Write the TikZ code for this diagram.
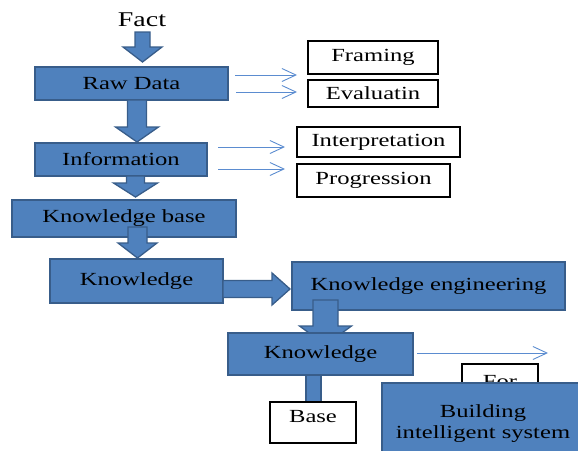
\documentclass[tikz,border=0pt]{standalone}
\usepackage{fontspec}
\setmainfont[FakeStretch=1.33]{Liberation Serif}
\usetikzlibrary{calc, arrows.meta}

\definecolor{boxblue}{HTML}{4F81BD}
\definecolor{edgeblue}{HTML}{385D8A}
\definecolor{thinblue}{HTML}{5B8CD0}

% block arrows: #1 start, #2 tip, #3 half shaft, #4 half head, #5 head length
\newcommand{\fatdown}[5]{%
  \filldraw[fatarrow] let \p1=(#1), \p2=(#2) in
    (\x1-#3,\y1) -- (\x1-#3,\y2+#5) -- (\x1-#4,\y2+#5) -- (\x2,\y2)
    -- (\x1+#4,\y2+#5) -- (\x1+#3,\y2+#5) -- (\x1+#3,\y1) -- cycle;}
\newcommand{\fatright}[5]{%
  \filldraw[fatarrow] let \p1=(#1), \p2=(#2) in
    (\x1,\y1+#3) -- (\x2-#5,\y1+#3) -- (\x2-#5,\y1+#4) -- (\x2,\y2)
    -- (\x2-#5,\y1-#4) -- (\x2-#5,\y1-#3) -- (\x1,\y1-#3) -- cycle;}

\tikzset{
  bluebox/.style={draw=edgeblue, fill=boxblue, line width=1.5pt, inner sep=0pt, font=\fontsize{18.5}{21}\selectfont},
  whitebox/.style={draw=black, fill=white, line width=1.1pt, inner sep=0pt, font=\fontsize{18.5}{21}\selectfont},
  fatarrow/.style={draw=edgeblue, fill=boxblue, line width=1.3pt, line join=miter},
  thinarrow/.style={draw=thinblue, line width=0.9pt, -{Straight Barb[length=14pt, width=13pt, line width=0.9pt]}}
}

\begin{document}
\begin{tikzpicture}[x=1pt, y=-1pt]
    % picture frame, in pixels of the reference (y downwards)
    \useasboundingbox (0,0) rectangle (578,450);

    % Side boxes
    \node[whitebox, minimum width=130pt, minimum height=33pt] (framing) at (373,57.5) {Framing};
    \node[whitebox, minimum width=130pt, minimum height=27pt] (evaluatin) at (373,93.5) {Evaluatin};
    \node[whitebox, minimum width=163pt, minimum height=30pt] (interp) at (378.5,142) {Interpretation};
    \node[whitebox, minimum width=153pt, minimum height=33pt] (progress) at (373.5,180.5) {Progression};

    % Thin arrows towards the side boxes
    \coordinate (raws1) at (235,75);  \coordinate (rawe1) at (297,75);
    \coordinate (raws2) at (236,92);  \coordinate (rawe2) at (297,92);
    \coordinate (infos1) at (218,147); \coordinate (infoe1) at (285,147);
    \coordinate (infos2) at (218,169); \coordinate (infoe2) at (285,169);
    \draw[thinarrow] (raws1) -- (rawe1);
    \draw[thinarrow] (raws2) -- (rawe2);
    \draw[thinarrow] (infos1) -- (infoe1);
    \draw[thinarrow] (infos2) -- (infoe2);

    % Main chain
    \node[font=\fontsize{21}{24}\selectfont] (fact) at (142,20) {Fact};
    \node[bluebox, minimum width=193pt, minimum height=33pt] (raw) at (131.5,83.5) {Raw Data};
    \node[bluebox, minimum width=172pt, minimum height=33pt] (info) at (121,159.5) {Information};
    \node[bluebox, minimum width=224pt, minimum height=37pt] (kbase) at (124,218.5) {Knowledge base};
    \node[bluebox, minimum width=173pt, minimum height=44pt] (know) at (136.5,281) {Knowledge};
    \node[bluebox, minimum width=273pt, minimum height=48pt] (keng) at (428.5,286) {Knowledge engineering};

    % Block arrows between the boxes
    \coordinate (fa1) at (142.5,32);  \coordinate (fb1) at (142.5,62);
    \coordinate (fa2) at (137,100);   \coordinate (fb2) at (137,142);
    \coordinate (fa3) at (135.5,176); \coordinate (fb3) at (135.5,197);
    \coordinate (fa4) at (137.5,227); \coordinate (fb4) at (137.5,258);
    \coordinate (fa5) at (223,289);   \coordinate (fb5) at (290,289);
    \coordinate (fa6) at (325.5,300); \coordinate (fb6) at (325.5,345);
    \fatdown{fa1}{fb1}{7.5pt}{19.5pt}{15pt}
    \fatdown{fa2}{fb2}{9.5pt}{21.5pt}{15pt}
    \fatdown{fa3}{fb3}{9pt}{22pt}{14pt}
    \fatdown{fa4}{fb4}{9.5pt}{19.5pt}{15pt}
    \fatright{fa5}{fb5}{8.5pt}{16pt}{18pt}
    \fatdown{fa6}{fb6}{12.5pt}{26pt}{19pt}

    % Second knowledge box and its outputs
    \node[bluebox, minimum width=185pt, minimum height=42pt, text depth=3pt] (know2) at (320.5,354) {Knowledge};
    \coordinate (ks) at (417,353); \coordinate (ke) at (548,353);
    \draw[thinarrow] (ks) -- (ke);

    \coordinate (st) at (313.5,375); \coordinate (sb) at (313.5,402);
    \filldraw[fatarrow] ($(st)+(-7.5,0)$) rectangle ($(sb)+(7.5,0)$);
    \node[whitebox, minimum width=86pt, minimum height=41pt, text depth=12pt] (base) at (313,422.5) {Base};

    \node[whitebox, minimum width=76pt, minimum height=36pt] (for) at (500,382) {For};
    \node[bluebox, minimum width=202pt, minimum height=82pt, align=center] (build) at (483,424)
        {Building\\intelligent system};
\end{tikzpicture}
\end{document}
